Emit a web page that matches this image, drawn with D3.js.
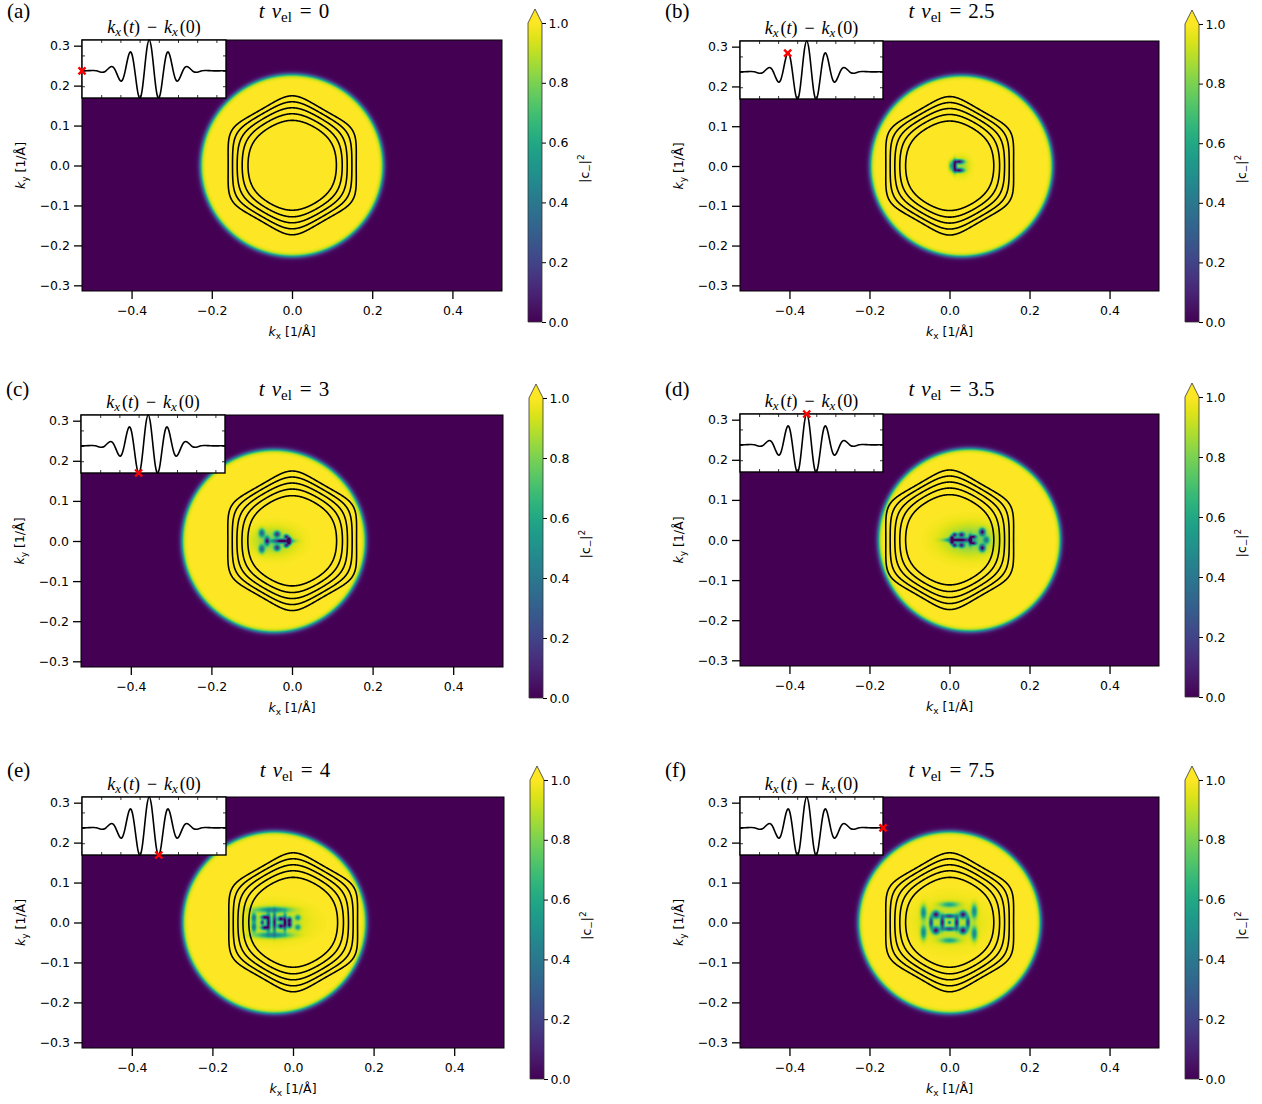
<!DOCTYPE html>
<html>
<head>
<meta charset="utf-8">
<script src="https://cdn.jsdelivr.net/npm/d3@7"></script>
<style>
body { margin: 0; background: #fff; }
text { font-family: "DejaVu Sans", sans-serif; }
.serif { font-family: "Liberation Serif", serif; }
</style>
</head>
<body>
<div id="chart"></div>
<script>
// Data
var panelLabels = ["(a)", "(b)", "(c)", "(d)", "(e)", "(f)"];
var timeLabels = ["0", "2.5", "3", "3.5", "4", "7.5"];
var times = [0, 2.5, 3, 3.5, 4, 7.5];

// centre of the occupied disk along kx, per panel
var diskShift = [0, 0.03, -0.045, 0.05, -0.046, 0];
var diskRadius = 0.228;
var diskEdge = 0.0028;

// k_x(t) - k_x(0), sampled every 0.125 from t = 0 to 7.5
var waveStep = 0.125;
var waveValues = [
  -0.002, -0.002, 0, 0.005, 0.011, 0.011, 0, -0.023,
  -0.044, -0.042, 0, 0.074, 0.135, 0.122, 0, -0.189,
  -0.325, -0.275, 0, 0.375, 0.607, 0.482, 0, -0.582,
  -0.882, -0.659, 0, 0.701, 1.0, 0.701, 0, -0.659,
  -0.882, -0.582, 0, 0.482, 0.607, 0.375, 0, -0.275,
  -0.325, -0.189, 0, 0.122, 0.135, 0.074, 0, -0.042,
  -0.044, -0.023, 0, 0.011, 0.011, 0.005, 0, -0.002,
  -0.002, -0.001, 0, 0, 0
];

// energy contours (hexagonally warped), levels and warping strength
var contourLevels = [0.1125, 0.129, 0.144, 0.159, 0.174];
var warping = 17;

// dips in |c_-|^2 near the centre: [kx, ky, sx, sy, depth]
var features = [
  [],
  [[0.013, 0, 0.0035, 0.01, 0.95], [0.024, 0.011, 0.008, 0.0035, 0.9], [0.024, -0.011, 0.008, 0.0035, 0.9],
   [0.004, 0, 0.004, 0.008, 0.35], [0.03, 0, 0.013, 0.015, 0.15]],
  [[-0.024, 0, 0.016, 0.0035, 0.95], [-0.007, 0.005, 0.0035, 0.0035, 0.85], [-0.007, -0.005, 0.0035, 0.0035, 0.85],
   [-0.014, 0.011, 0.004, 0.0035, 0.8], [-0.014, -0.011, 0.004, 0.0035, 0.8],
   [-0.037, 0.017, 0.005, 0.005, 0.75], [-0.037, -0.017, 0.005, 0.005, 0.75],
   [-0.062, 0, 0.004, 0.007, 0.8], [-0.075, 0.02, 0.005, 0.007, 0.6], [-0.075, -0.02, 0.005, 0.007, 0.6],
   [-0.045, 0, 0.035, 0.022, 0.2]],
  [[0.024, 0, 0.02, 0.0035, 0.95], [0.006, 0.006, 0.0035, 0.0035, 0.85], [0.006, -0.006, 0.0035, 0.0035, 0.85],
   [0.013, 0.013, 0.004, 0.0035, 0.8], [0.013, -0.013, 0.004, 0.0035, 0.8],
   [0.03, 0.013, 0.005, 0.004, 0.8], [0.03, -0.013, 0.005, 0.004, 0.8],
   [0.052, 0, 0.003, 0.008, 0.85], [0.06, 0.008, 0.005, 0.003, 0.8], [0.06, -0.008, 0.005, 0.003, 0.8],
   [0.082, 0.02, 0.005, 0.006, 0.9], [0.082, -0.02, 0.005, 0.006, 0.9], [0.092, 0, 0.005, 0.006, 0.5],
   [0.05, 0, 0.045, 0.026, 0.22]],
  [[-0.097, 0.012, 0.004, 0.008, 0.55], [-0.097, -0.012, 0.004, 0.008, 0.55],
   [-0.07, 0.013, 0.006, 0.0035, 0.9], [-0.07, -0.013, 0.006, 0.0035, 0.9],
   [-0.061, 0, 0.0035, 0.014, 0.85], [-0.076, 0, 0.003, 0.004, 0.7], [-0.046, 0, 0.003, 0.016, 0.8],
   [-0.03, 0.009, 0.005, 0.004, 0.9], [-0.03, -0.009, 0.005, 0.004, 0.9], [-0.02, 0, 0.003, 0.013, 0.9],
   [-0.009, 0.006, 0.004, 0.005, 0.9], [-0.009, -0.006, 0.004, 0.005, 0.9],
   [-0.05, 0.032, 0.03, 0.005, 0.45], [-0.05, -0.032, 0.03, 0.005, 0.45],
   [0.012, 0.012, 0.005, 0.005, 0.4], [0.012, -0.012, 0.005, 0.005, 0.4],
   [-0.045, 0, 0.05, 0.026, 0.15]],
  [[0, 0, 0.003, 0.003, 0.4], [-0.018, 0, 0.0035, 0.011, 0.85], [0.018, 0, 0.0035, 0.011, 0.85],
   [0, 0.016, 0.011, 0.0035, 0.7], [0, -0.016, 0.011, 0.0035, 0.7],
   [-0.034, 0.02, 0.006, 0.006, 0.9], [-0.034, -0.02, 0.006, 0.006, 0.9],
   [0.034, 0.02, 0.006, 0.006, 0.9], [0.034, -0.02, 0.006, 0.006, 0.9],
   [-0.046, 0, 0.0035, 0.01, 0.75], [0.046, 0, 0.0035, 0.01, 0.75],
   [-0.065, 0.025, 0.005, 0.012, 0.5], [-0.065, -0.025, 0.005, 0.012, 0.5],
   [0.062, 0.028, 0.005, 0.012, 0.5], [0.062, -0.028, 0.005, 0.012, 0.5],
   [0, 0.045, 0.016, 0.005, 0.35], [0, -0.045, 0.016, 0.005, 0.35], [0, 0, 0.05, 0.035, 0.12]]
];

var xTicks = [-0.4, -0.2, 0, 0.2, 0.4];
var yTicks = [-0.3, -0.2, -0.1, 0, 0.1, 0.2, 0.3];
var cbTicks = [0, 0.2, 0.4, 0.6, 0.8, 1.0];
var insetXTicks = [1, 2, 3, 4, 5, 6, 7];
var insetYTicks = [-0.5, 0, 0.5];

var xDomain = [-0.5236, 0.5236];
var yDomain = [-0.3142, 0.3142];

// panel placement
var layout = [
  {left: 82, top: 40, right: 502, bottom: 291, cbX: 528, cbTop: 23, cbBottom: 322, rowY: 18},
  {left: 740, top: 41, right: 1159, bottom: 291, cbX: 1185, cbTop: 24, cbBottom: 322, rowY: 18},
  {left: 81, top: 415, right: 503, bottom: 667, cbX: 529, cbTop: 398, cbBottom: 698, rowY: 396},
  {left: 740, top: 414, right: 1159, bottom: 666, cbX: 1185, cbTop: 397, cbBottom: 697, rowY: 396},
  {left: 82, top: 797, right: 504, bottom: 1048, cbX: 530, cbTop: 780, cbBottom: 1079, rowY: 777},
  {left: 740, top: 797, right: 1159, bottom: 1048, cbX: 1185, cbTop: 780, cbBottom: 1079, rowY: 777}
];

var svgWidth = 1262, svgHeight = 1104;
var svg = d3.select("#chart").append("svg")
  .attr("width", svgWidth)
  .attr("height", svgHeight);

// viridis lookup
var lut = d3.range(256).map(function(i) { return d3.rgb(d3.interpolateViridis(i / 255)); });

// energy grid for the contours (negated so the closed regions are the insides)
var gN = 401, gK0 = -0.2, gStep = 0.001;
var grid = new Float64Array(gN * gN);
for (var j = 0; j < gN; j++) {
  for (var i = 0; i < gN; i++) {
    var kx = gK0 + i * gStep, ky = gK0 + j * gStep;
    var c3 = kx * kx * kx - 3 * kx * ky * ky;
    grid[i + j * gN] = -Math.sqrt(kx * kx + ky * ky + warping * warping * c3 * c3);
  }
}
var contourSet = d3.contours().size([gN, gN])
  .thresholds(contourLevels.map(function(e) { return -e; }))(grid);

// colorbar gradient
var defs = svg.append("defs");
var grad = defs.append("linearGradient").attr("id", "viridisGrad")
  .attr("x1", 0).attr("y1", 1).attr("x2", 0).attr("y2", 0);
d3.range(0, 1.0001, 0.05).forEach(function(s) {
  grad.append("stop").attr("offset", s).attr("stop-color", d3.interpolateViridis(s));
});

function cellValue(kx, ky, p) {
  var dx = kx - diskShift[p];
  var r = Math.sqrt(dx * dx + ky * ky);
  var v = 1 / (1 + Math.exp((r - diskRadius) / diskEdge));
  var dip = 0, fs = features[p];
  for (var n = 0; n < fs.length; n++) {
    var f = fs[n];
    var u = (kx - f[0]) / f[2], w = (ky - f[1]) / f[3];
    dip += f[4] * Math.exp(-0.5 * (u * u + w * w));
  }
  return v * Math.max(0, 1 - dip);
}

layout.forEach(function(L, p) {
  var w = L.right - L.left, h = L.bottom - L.top;
  var xScale = d3.scaleLinear().domain(xDomain).range([L.left, L.right]);
  var yScale = d3.scaleLinear().domain(yDomain).range([L.bottom, L.top]);
  var g = svg.append("g");

  // heatmap
  var canvas = document.createElement("canvas");
  canvas.width = w; canvas.height = h;
  var ctx = canvas.getContext("2d");
  var img = ctx.createImageData(w, h);
  for (var py = 0; py < h; py++) {
    var ky = yScale.invert(L.top + py + 0.5);
    for (var px = 0; px < w; px++) {
      var kx = xScale.invert(L.left + px + 0.5);
      var v = cellValue(kx, ky, p);
      var c = lut[Math.max(0, Math.min(255, Math.round(v * 255)))];
      var o = (py * w + px) * 4;
      img.data[o] = c.r; img.data[o + 1] = c.g; img.data[o + 2] = c.b; img.data[o + 3] = 255;
    }
  }
  ctx.putImageData(img, 0, 0);
  g.append("image")
    .attr("x", L.left).attr("y", L.top)
    .attr("width", w).attr("height", h)
    .attr("preserveAspectRatio", "none")
    .attr("href", canvas.toDataURL());

  // contours
  var proj = d3.geoTransform({
    point: function(gx, gy) {
      this.stream.point(xScale(gK0 + gx * gStep), yScale(gK0 + gy * gStep));
    }
  });
  g.selectAll("path.contour")
    .data(contourSet)
    .enter()
    .append("path")
    .attr("class", "contour")
    .attr("d", d3.geoPath(proj))
    .attr("fill", "none")
    .attr("stroke", "#000")
    .attr("stroke-width", 1.6);

  // frame
  g.append("rect")
    .attr("x", L.left).attr("y", L.top).attr("width", w).attr("height", h)
    .attr("fill", "none").attr("stroke", "#000").attr("stroke-width", 1);

  // axes
  var bottomAxis = d3.axisBottom(xScale).tickValues(xTicks).tickSize(8).tickPadding(7)
    .tickFormat(d3.format(".1f"));
  var leftAxis = d3.axisLeft(yScale).tickValues(yTicks).tickSize(8).tickPadding(4)
    .tickFormat(d3.format(".1f"));
  var xa = g.append("g").attr("transform", "translate(0," + L.bottom + ")").call(bottomAxis);
  var ya = g.append("g").attr("transform", "translate(" + L.left + ",0)").call(leftAxis);
  [xa, ya].forEach(function(a) {
    a.select(".domain").remove();
    a.selectAll("line").attr("stroke", "#000").attr("stroke-width", 1.3);
    a.selectAll("text").attr("fill", "#000").style("font-size", "12.5px").style("font-family", "DejaVu Sans");
  });

  // axis labels
  var xl = g.append("text")
    .attr("x", (L.left + L.right) / 2).attr("y", L.bottom + 45)
    .attr("text-anchor", "middle").style("font-size", "12.5px");
  xl.append("tspan").style("font-style", "italic").text("k");
  xl.append("tspan").attr("dy", 3).style("font-size", "9px").text("x");
  xl.append("tspan").attr("dy", -3).text(" [1/Å]");

  var yl = g.append("text")
    .attr("transform", "translate(" + (L.left - 57) + "," + ((L.top + L.bottom) / 2) + ") rotate(-90)")
    .attr("text-anchor", "middle").style("font-size", "12.5px");
  yl.append("tspan").style("font-style", "italic").text("k");
  yl.append("tspan").attr("dy", 3).style("font-size", "9px").text("y");
  yl.append("tspan").attr("dy", -3).text(" [1/Å]");

  // panel label and title
  g.append("text").attr("class", "serif")
    .attr("x", L.left - 75).attr("y", L.rowY)
    .style("font-size", "21px").text(panelLabels[p]);

  var tt = g.append("text").attr("class", "serif")
    .attr("x", (L.left + L.right) / 2 + 2).attr("y", L.rowY)
    .attr("text-anchor", "middle").style("font-size", "21px");
  tt.append("tspan").style("font-style", "italic").text("t");
  tt.append("tspan").attr("dx", 7).style("font-style", "italic").text("ν");
  tt.append("tspan").attr("dy", 4).style("font-size", "15px").text("el");
  tt.append("tspan").attr("dy", -4).attr("dx", 8).text("=");
  tt.append("tspan").attr("dx", 7).text(timeLabels[p]);

  // inset
  var iw = Math.round(w * 0.342), ih = Math.round(h * 0.231);
  var ix = d3.scaleLinear().domain([0, 7.5]).range([L.left, L.left + iw]);
  var iy = d3.scaleLinear().domain(d3.extent(waveValues)).range([L.top + ih, L.top]);
  var ig = g.append("g");
  ig.append("rect")
    .attr("x", L.left).attr("y", L.top).attr("width", iw).attr("height", ih)
    .attr("fill", "#fff");

  var tickAxes = [
    [d3.axisBottom(ix), "translate(0," + (L.top + ih) + ")", insetXTicks],
    [d3.axisTop(ix), "translate(0," + L.top + ")", insetXTicks],
    [d3.axisLeft(iy), "translate(" + L.left + ",0)", insetYTicks],
    [d3.axisRight(iy), "translate(" + (L.left + iw) + ",0)", insetYTicks]
  ];
  tickAxes.forEach(function(t) {
    var a = ig.append("g").attr("transform", t[1])
      .call(t[0].tickValues(t[2]).tickSize(-3).tickFormat(""));
    a.select(".domain").remove();
    a.selectAll("line").attr("stroke", "#000").attr("stroke-width", 0.8);
  });

  var line = d3.line()
    .x(function(d, i) { return ix(i * waveStep); })
    .y(function(d) { return iy(d); })
    .curve(d3.curveNatural);
  ig.append("path")
    .datum(waveValues)
    .attr("d", line)
    .attr("fill", "none")
    .attr("stroke", "#000")
    .attr("stroke-width", 1.6);

  ig.append("rect")
    .attr("x", L.left).attr("y", L.top).attr("width", iw).attr("height", ih)
    .attr("fill", "none").attr("stroke", "#000").attr("stroke-width", 1.4);

  // current time marker
  var mVal = waveValues[Math.round(times[p] / waveStep)];
  var mx = ix(times[p]), my = iy(mVal), ms = 3.5;
  ig.append("path")
    .attr("d", "M" + (mx - ms) + "," + (my - ms) + "L" + (mx + ms) + "," + (my + ms) +
               "M" + (mx - ms) + "," + (my + ms) + "L" + (mx + ms) + "," + (my - ms))
    .attr("stroke", "#ff0000").attr("stroke-width", 2.4).attr("fill", "none");

  var it = g.append("text").attr("class", "serif")
    .attr("x", L.left + iw / 2).attr("y", L.top - 7)
    .attr("text-anchor", "middle").style("font-size", "18px");
  it.append("tspan").style("font-style", "italic").text("k");
  it.append("tspan").attr("dy", 3).style("font-size", "13px").style("font-style", "italic").text("x");
  it.append("tspan").attr("dy", -3).attr("dx", 2).text("(");
  it.append("tspan").style("font-style", "italic").text("t");
  it.append("tspan").text(")");
  it.append("tspan").attr("dx", 7).text("−");
  it.append("tspan").attr("dx", 7).style("font-style", "italic").text("k");
  it.append("tspan").attr("dy", 3).style("font-size", "13px").style("font-style", "italic").text("x");
  it.append("tspan").attr("dy", -3).attr("dx", 2).text("(0)");

  // colorbar
  var cbW = 14, triH = 14;
  var cbScale = d3.scaleLinear().domain([0, 1]).range([L.cbBottom, L.cbTop]);
  g.append("rect")
    .attr("x", L.cbX).attr("y", L.cbTop).attr("width", cbW).attr("height", L.cbBottom - L.cbTop)
    .attr("fill", "url(#viridisGrad)");
  g.append("path")
    .attr("d", "M" + L.cbX + "," + L.cbTop + "L" + (L.cbX + cbW / 2) + "," + (L.cbTop - triH) +
               "L" + (L.cbX + cbW) + "," + L.cbTop + "Z")
    .attr("fill", d3.interpolateViridis(1));
  g.append("path")
    .attr("d", "M" + L.cbX + "," + L.cbBottom + "L" + L.cbX + "," + L.cbTop +
               "L" + (L.cbX + cbW / 2) + "," + (L.cbTop - triH) + "L" + (L.cbX + cbW) + "," + L.cbTop +
               "L" + (L.cbX + cbW) + "," + L.cbBottom + "Z")
    .attr("fill", "none").attr("stroke", "#333").attr("stroke-width", 0.8);
  var cbAxis = d3.axisRight(cbScale).tickValues(cbTicks).tickSize(4).tickPadding(2.5)
    .tickFormat(d3.format(".1f"));
  var ca = g.append("g").attr("transform", "translate(" + (L.cbX + cbW) + ",0)").call(cbAxis);
  ca.select(".domain").remove();
  ca.selectAll("line").attr("stroke", "#000").attr("stroke-width", 1);
  ca.selectAll("text").attr("fill", "#000").style("font-size", "12.5px").style("font-family", "DejaVu Sans");

  var cl = g.append("text")
    .attr("transform", "translate(" + (L.cbX + 61) + "," + ((L.cbTop + L.cbBottom) / 2 - 4) + ") rotate(-90)")
    .attr("text-anchor", "middle").style("font-size", "12.5px");
  cl.append("tspan").text("|c");
  cl.append("tspan").attr("dy", 3).style("font-size", "9px").text("−");
  cl.append("tspan").attr("dy", -3).text("|");
  cl.append("tspan").attr("dy", -5).style("font-size", "9px").text("2");
});
</script>
</body>
</html>
